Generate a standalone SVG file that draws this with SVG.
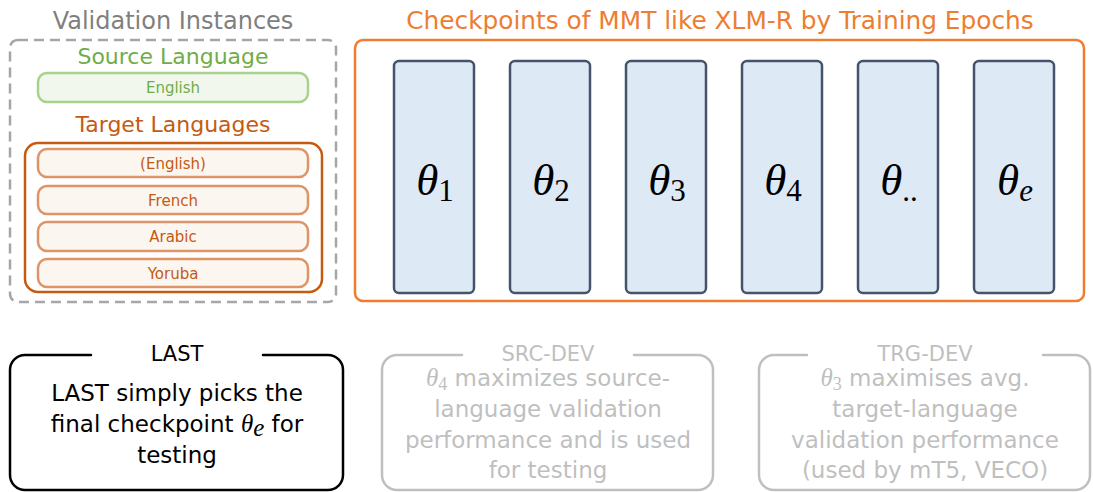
<svg xmlns="http://www.w3.org/2000/svg" width="1093" height="492" viewBox="0 0 1093 492">
  <defs>
    <style>
      text { font-family: "DejaVu Sans", "Liberation Sans", sans-serif; text-anchor: middle; }
      .math { font-family: "Liberation Serif", "DejaVu Serif", serif; font-style: italic; }
      .sub { font-family: "Liberation Serif", "DejaVu Serif", serif; font-style: normal; }
      .title { font-size: 24px; }
      .lang { font-size: 15px; }
      .ckpt { fill: #dee9f6; stroke: #44546a; stroke-width: 2.5; }
      .theta { font-size: 45px; fill: #000; }
      .theta .sub { font-size: 31px; }
      .frame { fill: none; stroke-width: 2.5; stroke-linecap: round; }
      .body { font-size: 23px; }
      .body .math { font-size: 25px; }
      .body .sub { font-size: 18px; }
      .tgt-item { fill: #fcf6f0; stroke: #dd9466; stroke-width: 2.5; }
    </style>
  </defs>

  <rect width="1093" height="492" fill="#ffffff"/>

  <!-- Validation instances panel -->
  <g id="validation-instances">
    <text class="title" x="173" y="29" fill="#7f7f7f">Validation Instances</text>
    <rect x="10" y="40" width="326" height="262" rx="8" fill="none" stroke="#a6a6a6" stroke-width="2.5" stroke-dasharray="10 6"/>
  </g>

  <g id="source-language">
    <text x="173" y="64" font-size="22" fill="#70ad47">Source Language</text>
    <rect x="38" y="73" width="270" height="29" rx="9" fill="#f1f7ed" stroke="#a9d18e" stroke-width="2.5"/>
    <text class="lang" x="173" y="93" fill="#70ad47">English</text>
  </g>

  <g id="target-languages">
    <text x="173" y="132" font-size="22" fill="#c55a11">Target Languages</text>
    <rect x="25" y="143" width="297" height="149" rx="13" fill="none" stroke="#c55a11" stroke-width="2.5"/>
    <rect class="tgt-item" x="38" y="149" width="270" height="28" rx="9"/>
    <text class="lang" x="173" y="169" fill="#c55a11">(English)</text>
    <rect class="tgt-item" x="38" y="186" width="270" height="28" rx="9"/>
    <text class="lang" x="173" y="206" fill="#c55a11">French</text>
    <rect class="tgt-item" x="38" y="222" width="270" height="29" rx="9"/>
    <text class="lang" x="173" y="242" fill="#c55a11">Arabic</text>
    <rect class="tgt-item" x="38" y="259" width="270" height="28" rx="9"/>
    <text class="lang" x="173" y="279" fill="#c55a11">Yoruba</text>
  </g>

  <!-- Checkpoints panel -->
  <g id="checkpoints">
    <text x="720" y="29" font-size="24.8" fill="#ed7d31">Checkpoints of MMT like XLM-R by Training Epochs</text>
    <rect x="355" y="40" width="729" height="261" rx="8" fill="none" stroke="#ed7d31" stroke-width="2.5"/>
  </g>

  <g id="ckpt-1">
    <rect class="ckpt" x="394" y="61" width="80" height="232" rx="5"/>
    <text class="theta" x="435" y="195"><tspan class="math">θ</tspan><tspan class="sub" dy="6">1</tspan></text>
  </g>
  <g id="ckpt-2">
    <rect class="ckpt" x="510" y="61" width="80" height="232" rx="5"/>
    <text class="theta" x="551" y="195"><tspan class="math">θ</tspan><tspan class="sub" dy="6">2</tspan></text>
  </g>
  <g id="ckpt-3">
    <rect class="ckpt" x="626" y="61" width="80" height="232" rx="5"/>
    <text class="theta" x="667" y="195"><tspan class="math">θ</tspan><tspan class="sub" dy="6">3</tspan></text>
  </g>
  <g id="ckpt-4">
    <rect class="ckpt" x="742" y="61" width="80" height="232" rx="5"/>
    <text class="theta" x="783" y="195"><tspan class="math">θ</tspan><tspan class="sub" dy="6">4</tspan></text>
  </g>
  <g id="ckpt-n">
    <rect class="ckpt" x="858" y="61" width="80" height="232" rx="5"/>
    <text class="theta" x="899" y="195"><tspan class="math">θ</tspan><tspan class="sub" dy="6">..</tspan></text>
  </g>
  <g id="ckpt-e">
    <rect class="ckpt" x="974" y="61" width="80" height="232" rx="5"/>
    <text class="theta" x="1015" y="195"><tspan class="math">θ</tspan><tspan class="math" font-size="31" dy="6">e</tspan></text>
  </g>

  <!-- Selection strategies -->
  <g id="last">
    <path class="frame" stroke="#000000" d="M91,355 H25 A15,15 0 0 0 10,370 V475 A15,15 0 0 0 25,490 H328 A15,15 0 0 0 343,475 V370 A15,15 0 0 0 328,355 H263"/>
    <text x="177" y="361" font-size="21" fill="#000">LAST</text>
    <text class="body" x="177" y="401" fill="#000">LAST simply picks the</text>
    <text class="body" x="177" y="432" fill="#000">final checkpoint <tspan class="math">θ</tspan><tspan class="math" font-size="18" dy="4">e</tspan><tspan dy="-4"> for</tspan></text>
    <text class="body" x="177" y="463" fill="#000">testing</text>
  </g>

  <g id="src-dev" fill="#bfbfbf">
    <path class="frame" stroke="#bfbfbf" d="M462,355 H397 A15,15 0 0 0 382,370 V475 A15,15 0 0 0 397,490 H698 A15,15 0 0 0 713,475 V370 A15,15 0 0 0 698,355 H634"/>
    <text x="548" y="361" font-size="21">SRC-DEV</text>
    <text class="body" x="548" y="386"><tspan class="math">θ</tspan><tspan class="sub" dy="4">4</tspan><tspan dy="-4"> maximizes source-</tspan></text>
    <text class="body" x="548" y="417">language validation</text>
    <text class="body" x="548" y="448">performance and is used</text>
    <text class="body" x="548" y="478">for testing</text>
  </g>

  <g id="trg-dev" fill="#bfbfbf">
    <path class="frame" stroke="#bfbfbf" d="M807,355 H774 A15,15 0 0 0 759,370 V475 A15,15 0 0 0 774,490 H1075 A15,15 0 0 0 1090,475 V370 A15,15 0 0 0 1075,355 H1043"/>
    <text x="925" y="361" font-size="21">TRG-DEV</text>
    <text class="body" x="925" y="386"><tspan class="math">θ</tspan><tspan class="sub" dy="4">3</tspan><tspan dy="-4"> maximises avg.</tspan></text>
    <text class="body" x="925" y="417">target-language</text>
    <text class="body" x="925" y="448">validation performance</text>
    <text class="body" x="925" y="478">(used by mT5, VECO)</text>
  </g>
</svg>
